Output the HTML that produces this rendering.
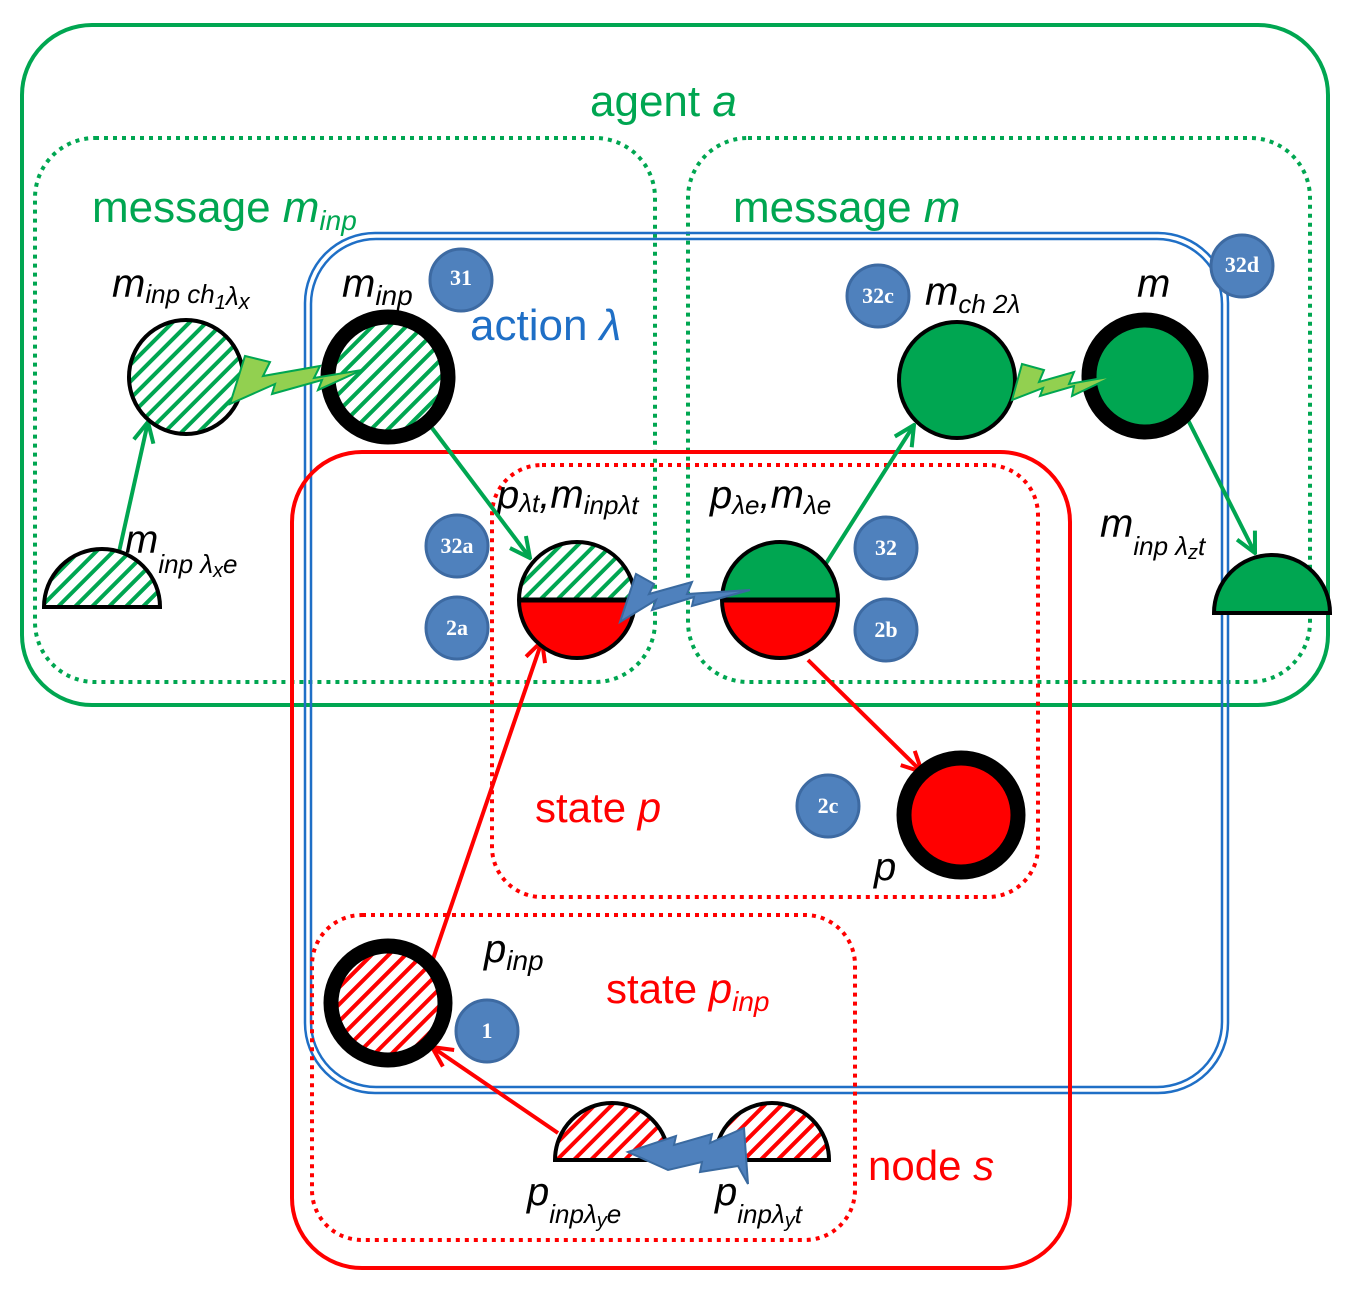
<!DOCTYPE html>
<html><head><meta charset="utf-8"><style>
html,body{margin:0;padding:0;background:#fff}
svg{display:block}
text{font-family:"Liberation Sans","DejaVu Sans",sans-serif}
.it{font-style:italic}
.b text{font-family:"Liberation Serif",serif;font-weight:bold;fill:#fff;font-size:22px}
</style></head><body>
<svg width="1354" height="1294" viewBox="0 0 1354 1294" xmlns="http://www.w3.org/2000/svg">
<defs>
<pattern id="hg" patternUnits="userSpaceOnUse" width="12" height="12" patternTransform="rotate(45)">
<rect width="12" height="12" fill="#fff"/><rect width="4" height="12" fill="#00a651"/></pattern>
<pattern id="hr" patternUnits="userSpaceOnUse" width="12" height="12" patternTransform="rotate(45)">
<rect width="12" height="12" fill="#fff"/><rect width="4" height="12" fill="#f00"/></pattern>
<marker id="ag" markerWidth="24" markerHeight="24" refX="22" refY="12" orient="auto" markerUnits="userSpaceOnUse" viewBox="0 0 24 24"><path d="M2,2 L22,12 L2,22" fill="none" stroke="#00a651" stroke-width="4"/></marker>
<marker id="ar" markerWidth="24" markerHeight="24" refX="22" refY="12" orient="auto" markerUnits="userSpaceOnUse" viewBox="0 0 24 24"><path d="M2,2 L22,12 L2,22" fill="none" stroke="#f00" stroke-width="4"/></marker>
</defs>
<!-- containers -->
<rect x="22" y="25" width="1306" height="680" rx="70" fill="none" stroke="#00a651" stroke-width="4"/>
<rect x="35" y="138" width="620" height="544" rx="60" fill="none" stroke="#00a651" stroke-width="4" stroke-dasharray="4 5"/>
<rect x="688" y="138" width="622" height="544" rx="60" fill="none" stroke="#00a651" stroke-width="4" stroke-dasharray="4 5"/>
<rect x="305" y="233" width="923" height="860" rx="70" fill="none" stroke="#1f6fc6" stroke-width="2.5"/>
<rect x="311" y="239" width="911" height="848" rx="65" fill="none" stroke="#1f6fc6" stroke-width="2.5"/>
<rect x="292" y="452" width="778" height="816" rx="70" fill="none" stroke="#f00" stroke-width="4"/>
<rect x="492" y="465" width="546" height="432" rx="50" fill="none" stroke="#f00" stroke-width="4" stroke-dasharray="4 5"/>
<rect x="312" y="915" width="543" height="325" rx="50" fill="none" stroke="#f00" stroke-width="4" stroke-dasharray="4 5"/>

<!-- labels -->
<text x="590" y="116" font-size="44" fill="#00a651">agent <tspan class="it">a</tspan></text>
<text x="92" y="222" font-size="44" fill="#00a651">message <tspan class="it">m</tspan><tspan class="it" font-size="28" dy="8">inp</tspan></text>
<text x="733" y="222" font-size="44" fill="#00a651">message <tspan class="it">m</tspan></text>
<text x="470" y="340" font-size="44" fill="#1f6fc6">action <tspan class="it">λ</tspan></text>
<text x="535" y="822" font-size="42" fill="#f00">state <tspan class="it">p</tspan></text>
<text x="606" y="1003" font-size="42" fill="#f00">state <tspan class="it">p</tspan><tspan class="it" font-size="28" dy="8">inp</tspan></text>
<text x="868" y="1180" font-size="42" fill="#f00">node <tspan class="it">s</tspan></text>

<g class="it" fill="#000">
<text x="112" y="297" font-size="40">m<tspan font-size="26" dy="6">inp ch</tspan><tspan font-size="20" dy="6">1</tspan><tspan font-size="26" dy="-4">λ</tspan><tspan font-size="22" dy="4">x</tspan></text>
<text x="342" y="297" font-size="40">m<tspan font-size="28" dy="8">inp</tspan></text>
<text x="125" y="553" font-size="40">m<tspan font-size="26" dy="20">inp λ</tspan><tspan font-size="20" dy="4">x</tspan><tspan font-size="26" dy="-4">e</tspan></text>
<text x="497" y="508" font-size="40">p<tspan font-size="26" dy="4">λt</tspan><tspan dy="-4">,m</tspan><tspan font-size="26" dy="6">inpλt</tspan></text>
<text x="710" y="508" font-size="40">p<tspan font-size="26" dy="6">λe</tspan><tspan dy="-6">,m</tspan><tspan font-size="26" dy="6">λe</tspan></text>
<text x="925" y="305" font-size="40">m<tspan font-size="26" dy="8">ch 2λ</tspan></text>
<text x="1137" y="297" font-size="40">m</text>
<text x="1100" y="537" font-size="40">m<tspan font-size="26" dy="18">inp λ</tspan><tspan font-size="20" dy="4">z</tspan><tspan font-size="26" dy="-4">t</tspan></text>
<text x="874" y="880" font-size="40">p</text>
<text x="484" y="962" font-size="40">p<tspan font-size="28" dy="8">inp</tspan></text>
<text x="527" y="1205" font-size="40">p<tspan font-size="26" dy="18">inpλ</tspan><tspan font-size="20" dy="4">y</tspan><tspan font-size="26" dy="-4">e</tspan></text>
<text x="715" y="1205" font-size="40">p<tspan font-size="26" dy="18">inpλ</tspan><tspan font-size="20" dy="4">y</tspan><tspan font-size="26" dy="-4">t</tspan></text>
</g>

<!-- arrows -->
<g stroke-width="4" fill="none">
<line x1="119" y1="552" x2="148" y2="422" stroke="#00a651" marker-end="url(#ag)"/>
<line x1="432" y1="428" x2="530" y2="558" stroke="#00a651" marker-end="url(#ag)"/>
<line x1="825" y1="565" x2="914" y2="425" stroke="#00a651" marker-end="url(#ag)"/>
<line x1="1187" y1="418" x2="1255" y2="553" stroke="#00a651" marker-end="url(#ag)"/>
<line x1="432" y1="962" x2="542" y2="641" stroke="#f00" marker-end="url(#ar)"/>
<line x1="558" y1="1133" x2="432" y2="1047" stroke="#f00" marker-end="url(#ar)"/>
<line x1="808" y1="660" x2="922" y2="772" stroke="#f00" marker-end="url(#ar)"/>
</g>

<!-- nodes -->
<circle cx="186" cy="377" r="57" fill="url(#hg)" stroke="#000" stroke-width="4"/>
<circle cx="388" cy="377" r="60" fill="url(#hg)" stroke="#000" stroke-width="15"/>
<path d="M44,607 A58,58 0 0 1 160,607 Z" fill="url(#hg)" stroke="#000" stroke-width="4"/>
<path d="M519,600 A58,58 0 0 1 635,600 Z" fill="url(#hg)"/>
<path d="M519,600 A58,58 0 0 0 635,600 Z" fill="#f00"/>
<circle cx="577" cy="600" r="58" fill="none" stroke="#000" stroke-width="4"/>
<line x1="519" y1="600" x2="635" y2="600" stroke="#000" stroke-width="5"/>
<path d="M722,600 A58,58 0 0 1 838,600 Z" fill="#00a651"/>
<path d="M722,600 A58,58 0 0 0 838,600 Z" fill="#f00"/>
<circle cx="780" cy="600" r="58" fill="none" stroke="#000" stroke-width="4"/>
<line x1="722" y1="600" x2="838" y2="600" stroke="#000" stroke-width="5"/>
<circle cx="957" cy="380" r="58" fill="#00a651" stroke="#000" stroke-width="4"/>
<circle cx="1145" cy="376" r="56" fill="#00a651" stroke="#000" stroke-width="15"/>
<path d="M1214,613 A58,58 0 0 1 1330,613 Z" fill="#00a651" stroke="#000" stroke-width="4"/>
<circle cx="961" cy="815" r="57" fill="#f00" stroke="#000" stroke-width="15"/>
<circle cx="388" cy="1003" r="57" fill="url(#hr)" stroke="#000" stroke-width="15"/>
<path d="M555,1160 A57,57 0 0 1 669,1160 Z" fill="url(#hr)" stroke="#000" stroke-width="4"/>
<path d="M715,1160 A57,57 0 0 1 829,1160 Z" fill="url(#hr)" stroke="#000" stroke-width="4"/>

<!-- lightning -->
<polygon points="230,404 245,356 270,362 263,376 320,366 314,378 362,370 318,390 322,380 272,394 275,384" fill="#92d050" stroke="#00a651" stroke-width="2"/>
<polygon points="1012,400 1022,364 1044,370 1039,382 1074,372 1069,384 1114,376 1072,396 1074,386 1040,396 1043,388" fill="#92d050" stroke="#00a651" stroke-width="2"/>
<polygon points="620,622 636,574 654,584 649,594 692,582 687,594 750,590 692,606 694,597 652,610 656,600" fill="#4f81bd" stroke="#3a6aa0" stroke-width="2"/>
<polygon points="628,1152 676,1136 674,1145 712,1134 710,1143 744,1128 748,1184 738,1166 700,1172 702,1162 668,1170" fill="#4f81bd" stroke="#3a6aa0" stroke-width="2"/>

<!-- badges -->
<g fill="#4f81bd" stroke="#3d6aa2" stroke-width="3">
<circle cx="461" cy="280" r="31"/><circle cx="457" cy="546" r="31"/><circle cx="457" cy="628" r="31"/>
<circle cx="886" cy="548" r="31"/><circle cx="886" cy="630" r="31"/><circle cx="878" cy="296" r="31"/>
<circle cx="1242" cy="266" r="31"/><circle cx="828" cy="806" r="31"/><circle cx="487" cy="1031" r="31"/>
</g>
<g class="b" text-anchor="middle">
<text x="461" y="285">31</text><text x="457" y="553">32a</text><text x="457" y="635">2a</text>
<text x="886" y="555">32</text><text x="886" y="637">2b</text><text x="878" y="303">32c</text>
<text x="1242" y="272">32d</text><text x="828" y="813">2c</text><text x="487" y="1038">1</text>
</g>
</svg>
</body></html>
